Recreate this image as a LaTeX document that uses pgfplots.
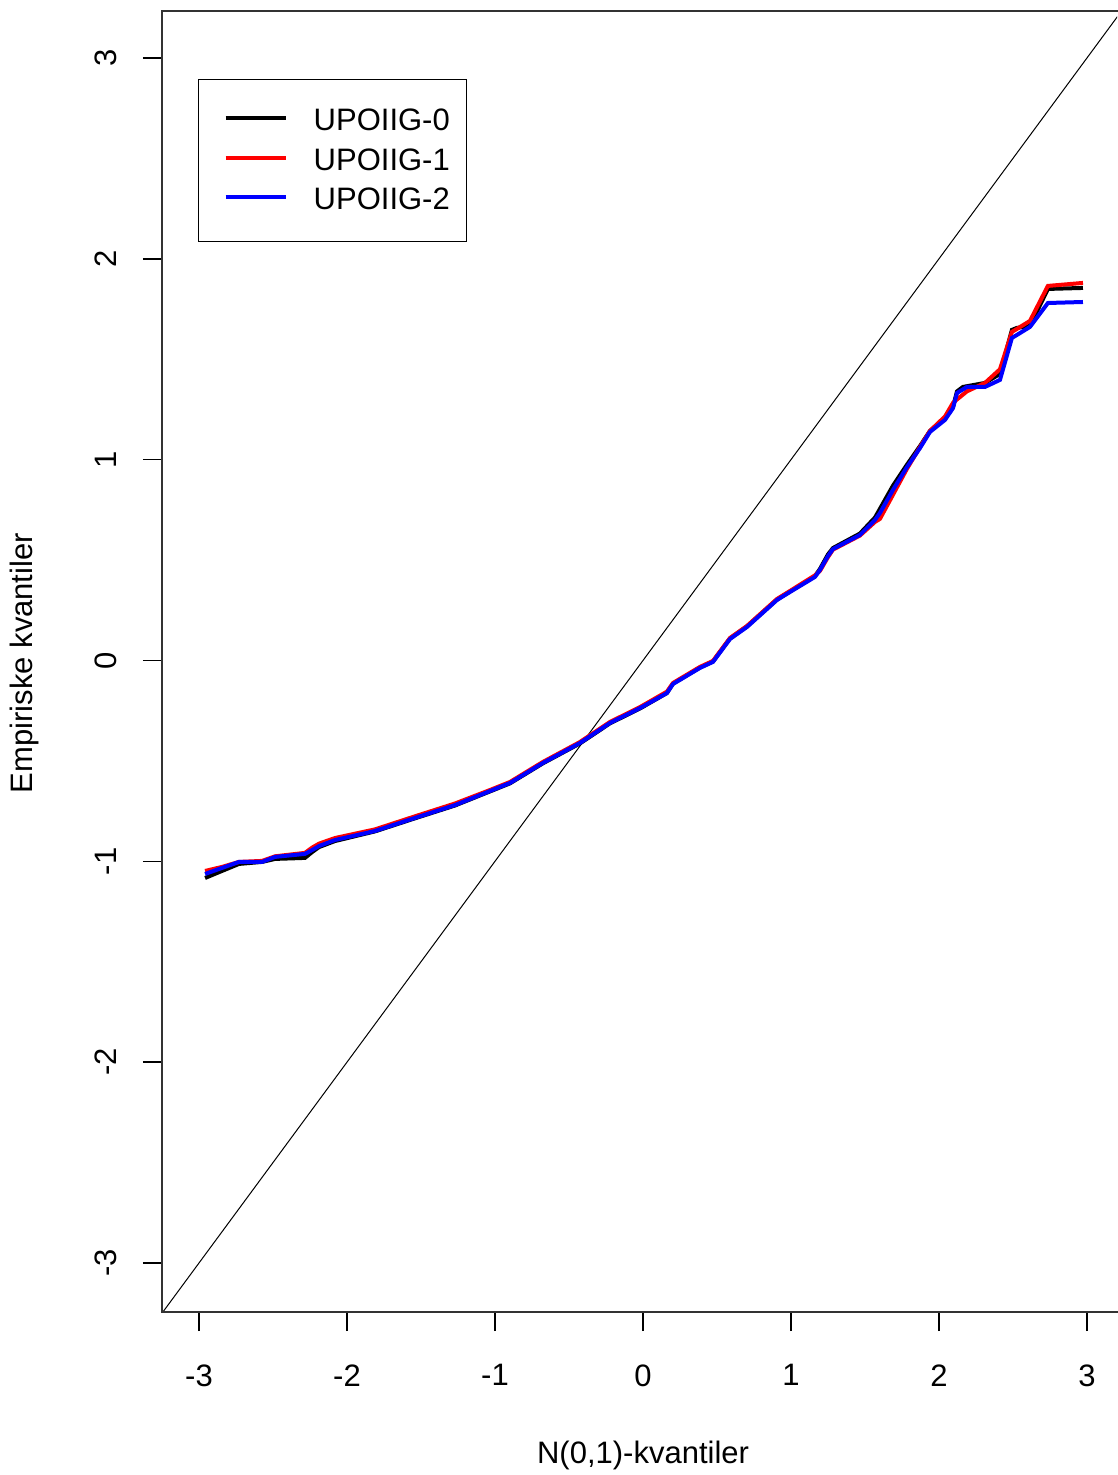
\documentclass[border=0pt]{standalone}
\usepackage{pgfplots}
\pgfplotsset{compat=1.18}
\usepackage{fontspec}
\setmainfont{Liberation Sans}

% Normal QQ curves (theoretical quantile, empirical quantile)
\newcommand{\qqzero}{
(-2.959,-1.083) (-2.845,-1.048) (-2.730,-1.013) (-2.574,-1.003) (-2.486,-0.988)
(-2.284,-0.983) (-2.236,-0.954) (-2.189,-0.929) (-2.081,-0.899) (-1.811,-0.851)
(-1.541,-0.786) (-1.270,-0.722) (-1.034,-0.652) (-0.899,-0.612) (-0.676,-0.512)
(-0.426,-0.413) (-0.223,-0.313) (-0.020,-0.239) (0.162,-0.162) (0.203,-0.115)
(0.385,-0.035) (0.473,-0.005) (0.588,0.110) (0.703,0.170) (0.905,0.303)
(0.993,0.343) (1.162,0.420) (1.196,0.456) (1.250,0.528) (1.284,0.560)
(1.466,0.632) (1.568,0.712) (1.601,0.755) (1.689,0.870) (1.784,0.975)
(1.872,1.068) (1.939,1.143) (2.041,1.205) (2.095,1.263) (2.122,1.340)
(2.162,1.362) (2.311,1.382) (2.412,1.427) (2.493,1.646) (2.527,1.656)
(2.615,1.666) (2.736,1.850) (2.973,1.855)
}
\newcommand{\qqone}{
(-2.959,-1.048) (-2.845,-1.028) (-2.730,-1.003) (-2.574,-0.998) (-2.486,-0.975)
(-2.284,-0.958) (-2.236,-0.932) (-2.189,-0.912) (-2.081,-0.884) (-1.811,-0.841)
(-1.541,-0.776) (-1.270,-0.712) (-1.034,-0.645) (-0.899,-0.605) (-0.676,-0.505)
(-0.426,-0.406) (-0.223,-0.306) (-0.020,-0.232) (0.162,-0.155) (0.203,-0.112)
(0.385,-0.032) (0.473,-0.002) (0.588,0.112) (0.703,0.172) (0.905,0.306)
(0.993,0.346) (1.162,0.424) (1.196,0.446) (1.250,0.515) (1.284,0.552)
(1.466,0.622) (1.568,0.690) (1.601,0.705) (1.689,0.825) (1.784,0.955)
(1.872,1.063) (1.939,1.143) (2.041,1.215) (2.095,1.283) (2.122,1.300)
(2.189,1.340) (2.311,1.382) (2.412,1.450) (2.493,1.636) (2.527,1.651)
(2.615,1.691) (2.736,1.865) (2.973,1.880)
}
\newcommand{\qqtwo}{
(-2.959,-1.063) (-2.845,-1.033) (-2.730,-1.003) (-2.574,-1.003) (-2.486,-0.978)
(-2.284,-0.963) (-2.236,-0.944) (-2.189,-0.924) (-2.081,-0.894) (-1.811,-0.849)
(-1.541,-0.784) (-1.270,-0.720) (-1.034,-0.650) (-0.899,-0.610) (-0.676,-0.510)
(-0.426,-0.411) (-0.223,-0.311) (-0.020,-0.237) (0.162,-0.162) (0.203,-0.117)
(0.385,-0.037) (0.473,-0.007) (0.588,0.107) (0.703,0.167) (0.905,0.301)
(0.993,0.341) (1.162,0.416) (1.196,0.451) (1.250,0.520) (1.284,0.555)
(1.466,0.625) (1.568,0.700) (1.601,0.734) (1.689,0.849) (1.784,0.963)
(1.872,1.058) (1.939,1.138) (2.041,1.198) (2.095,1.257) (2.122,1.332)
(2.189,1.362) (2.311,1.362) (2.412,1.397) (2.493,1.606) (2.527,1.621)
(2.615,1.661) (2.736,1.780) (2.973,1.785)
}

\begin{document}
\begin{tikzpicture}
\begin{axis}[
  scale only axis,
  width=477.5pt, height=650.5pt,
  xmin=-3.25, xmax=3.203,
  ymin=-3.244, ymax=3.234,
  clip mode=individual,
  axis line style={draw=none},
  tick pos=left,
  tick align=outside,
  major tick length=9.5pt,
  tick style={black, line width=0.7pt},
  xtick={-3,-2,-1,0,1,2,3},
  xticklabels={-3,-2,-1,0,1,2,3},
  ytick={-3,-2,-1,0,1,2,3},
  yticklabels={-3,-2,-1,0,1,2,3},
  ticklabel style={font=\fontsize{15.5}{18}\selectfont},
  yticklabel style={rotate=90, anchor=south, inner sep=0pt, inner ysep=13pt},
  xticklabel style={anchor=north, inner sep=0pt, inner ysep=16.5pt},
  xlabel={N(0,1)-kvantiler},
  ylabel={Empiriske kvantiler},
  every axis x label/.style={at={(axis description cs:0.5037,0)}, anchor=center,
    yshift=-71.5pt, font=\fontsize{15.5}{18}\selectfont},
  every axis y label/.style={at={(axis description cs:-0.1435,0.4988)}, rotate=90,
    anchor=center, font=\fontsize{15.5}{18}\selectfont},
  legend style={at={(0.0377,0.9477)}, anchor=north west, draw=black, line width=0.7pt,
    font=\fontsize{15.5}{18}\selectfont, inner xsep=6.5pt, inner ysep=12.5pt,
    row sep=3.5pt},
  legend cell align=left,
  legend image code/.code={%
    \path[draw=none] (-7pt,1.5pt) -- (42pt,1.5pt);
    \draw[#1] (0pt,1.5pt) -- (30pt,1.5pt);},
]
% reference line y = x
\addplot[black, line width=0.5pt, forget plot] coordinates {(-4,-4) (4,4)};
\addplot[black, line width=2pt] coordinates {\qqzero};
\addplot[red, line width=2pt] coordinates {\qqone};
\addplot[blue, line width=2pt] coordinates {\qqtwo};
\legend{UPOIIG-0,UPOIIG-1,UPOIIG-2}
% frame on left, top and bottom
\draw[black!80, line width=1pt] (rel axis cs:1.01,1) -- (rel axis cs:0,1) -- (rel axis cs:0,0) -- (rel axis cs:1.01,0);
\end{axis}
\pgfresetboundingbox
\path[use as bounding box] (-81pt,-81.5pt) rectangle (477.5pt,656pt);
\end{tikzpicture}
\end{document}
